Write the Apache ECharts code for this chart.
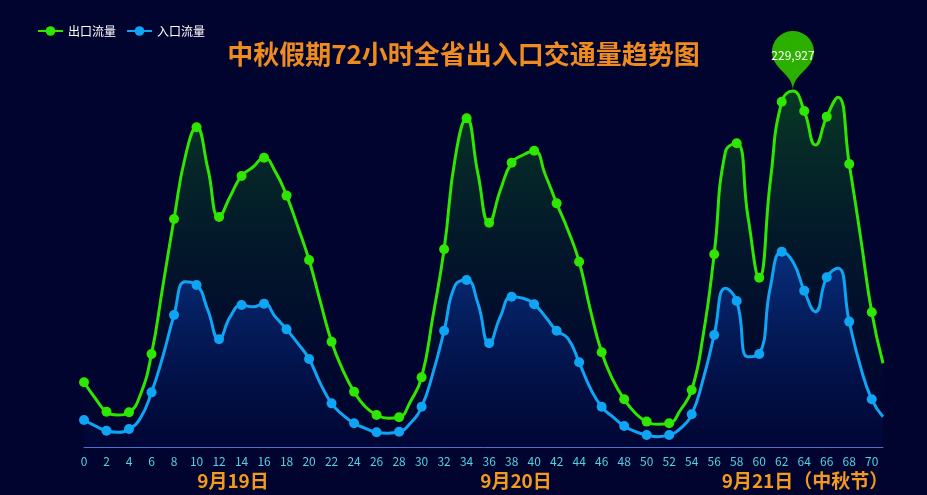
<!DOCTYPE html>
<html>
<head>
<meta charset="utf-8">
<style>
html,body{margin:0;padding:0;background:#00042e;}
#main{width:927px;height:495px;}
</style>
<script src="https://cdn.jsdelivr.net/npm/echarts@6/dist/echarts.min.js"></script>
</head>
<body>
<div id="main"></div>
<script>
// 横轴：72个小时
var hours = [];
for (var i = 0; i < 72; i++) {
	hours.push(String(i));
}
// 出口流量
var outFlow = [41800, 31500, 22800, 20700, 22400, 33600, 60100, 103600, 147300, 187500,
	206500, 180000, 148600, 162000, 175100, 180700, 186900, 177900, 162400, 142300,
	120800, 93900, 68000, 49700, 35700, 26000, 20700, 18500, 19200, 29300,
	45000, 84200, 127700, 187500, 212300, 176800, 144900, 166000, 183700, 188600,
	191400, 175700, 157400, 140200, 119700, 88500, 61200, 43300, 30800, 21800,
	16400, 14700, 15300, 23900, 36800, 71300, 124500, 190800, 196200, 148800,
	109400, 172500, 223000, 229927, 217100, 195100, 213400, 226000, 182800, 135900,
	87000, 54100];
// 入口流量
var inFlow = [17400, 13600, 10500, 9500, 11600, 18500, 35300, 58300, 85300, 106800,
	104700, 88500, 69600, 84200, 91700, 90600, 92600, 84200, 76000, 67000,
	56900, 41100, 28200, 20700, 15300, 12100, 9500, 8900, 9900, 15300,
	26000, 47600, 75100, 104700, 107900, 92800, 67000, 84200, 97100, 96100,
	92200, 84200, 75100, 70200, 54700, 37900, 26000, 19400, 13600, 9900,
	7800, 6700, 7800, 12100, 21100, 43300, 72400, 102500, 94300, 58300,
	60100, 103600, 126200, 119700, 101000, 87400, 109600, 115400, 81000, 51900,
	30800, 19600];
// 日期标注
var dayLabels = ['9月19日', '9月20日', '9月21日（中秋节）'];
var dayCenters = [233, 516, 805];

var myChart = echarts.init(document.getElementById('main'));

var graphics = [];
for (var j = 0; j < dayLabels.length; j++) {
	graphics.push({
		type: 'text',
		x: dayCenters[j],
		y: 481,
		style: {
			text: dayLabels[j],
			fill: '#f39a1e',
			font: 'bold 19px "Noto Sans CJK SC"',
			align: 'center',
			verticalAlign: 'middle'
		}
	});
}

var option = {
	backgroundColor: '#00042e',
	textStyle: {fontFamily: '"Noto Sans CJK SC", sans-serif'},
	title: {
		text: '中秋假期72小时全省出入口交通量趋势图',
		left: 'center',
		top: 36,
		textStyle: {color: '#f08c1e', fontSize: 26, fontWeight: 'bold'}
	},
	legend: {
		left: 32,
		top: 20,
		itemWidth: 25,
		itemHeight: 12,
		itemGap: 10,
		textStyle: {color: '#ffffff', fontSize: 12},
		data: ['出口流量', '入口流量']
	},
	grid: {left: 84, right: 44, top: 60, bottom: 48},
	xAxis: [{
		type: 'category',
		boundaryGap: false,
		data: hours,
		axisLine: {lineStyle: {color: '#4f70d0'}},
		axisTick: {show: false},
		axisLabel: {interval: 1, color: '#4fd3e6', fontSize: 12, margin: 8}
	}],
	yAxis: [{
		type: 'value',
		min: 0,
		max: 250000,
		show: false
	}],
	graphic: graphics,
	series: [
		{
			name: '出口流量',
			type: 'line',
			smooth: true,
			symbol: 'circle',
			symbolSize: 10,
			showAllSymbol: 'auto',
			lineStyle: {width: 3, color: '#2ee600'},
			itemStyle: {color: '#2ee600'},
			areaStyle: {
				color: new echarts.graphic.LinearGradient(0, 0, 0, 1, [
					{offset: 0, color: 'rgba(20,140,20,0.55)'},
					{offset: 1, color: 'rgba(0,10,50,0.1)'}
				])
			},
			markPoint: {
				symbol: 'pin',
				symbolSize: [70, 69],
				itemStyle: {color: '#2cb000'},
				label: {
					color: '#ffffff',
					fontSize: 12,
					formatter: function (p) {
						return Number(p.value).toLocaleString('en-US');
					}
				},
				data: [{type: 'max'}]
			},
			data: outFlow
		},
		{
			name: '入口流量',
			type: 'line',
			smooth: true,
			symbol: 'circle',
			symbolSize: 10,
			showAllSymbol: 'auto',
			lineStyle: {width: 3, color: '#0fa5f5'},
			itemStyle: {color: '#0fa5f5'},
			areaStyle: {
				color: new echarts.graphic.LinearGradient(0, 0, 0, 1, [
					{offset: 0, color: 'rgba(10,60,170,0.9)'},
					{offset: 1, color: 'rgba(0,8,60,0.6)'}
				])
			},
			data: inFlow
		}
	]
};

myChart.setOption(option);
</script>
</body>
</html>
